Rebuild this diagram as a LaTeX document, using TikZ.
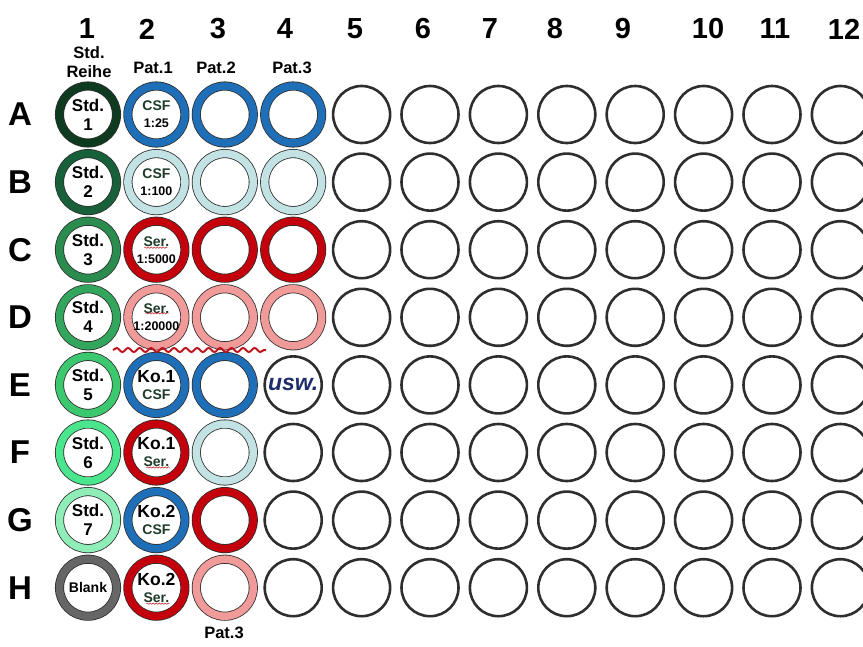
\documentclass[tikz,border=0pt]{standalone}
\usepackage{fontspec}
\setmainfont{Liberation Sans}
\usetikzlibrary{calc,decorations.pathmorphing}

\definecolor{edge}{HTML}{2E2E2E}
\definecolor{stdA}{HTML}{0E3B20}
\definecolor{stdB}{HTML}{17603A}
\definecolor{stdC}{HTML}{2A8C4E}
\definecolor{stdD}{HTML}{33A65D}
\definecolor{stdE}{HTML}{3CC86F}
\definecolor{stdF}{HTML}{4BE58D}
\definecolor{stdG}{HTML}{8FEDB7}
\definecolor{blank}{HTML}{666666}
\definecolor{csf}{HTML}{1E6FB8}
\definecolor{csflight}{HTML}{C2E2E3}
\definecolor{ser}{HTML}{C3000B}
\definecolor{serlight}{HTML}{F19A9A}
\definecolor{labgreen}{HTML}{1E3B2A}
\definecolor{uswblue}{HTML}{1F2D6B}
\definecolor{wavered}{HTML}{C0141C}

\tikzset{
  well/.style={circle, draw=edge, line width=2.6, minimum size=57, inner sep=0pt},
  ring/.style={circle, draw=edge, line width=0.8, double=#1, double distance=7.5,
    minimum size=57, inner sep=0pt, fill=white, align=center,
    font=\bfseries\fontsize{17}{19}\selectfont},
  dil/.style={font=\bfseries\fontsize{12.5}{17}\selectfont},
  colnum/.style={font=\bfseries\fontsize{29}{29}\selectfont},
  rowlet/.style={font=\bfseries\fontsize{33}{33}\selectfont},
  grouplab/.style={font=\bfseries\fontsize{16.5}{19}\selectfont, align=center},
  squig/.style={draw=wavered, line width=0.5, decorate,
    decoration={snake, amplitude=0.7, segment length=3}},
  wave/.style={draw=wavered, line width=2, decorate,
    decoration={snake, amplitude=2, segment length=11.5}}
}

\newcommand{\gl}[1]{{\fontsize{14}{15}\selectfont\color{labgreen}#1}}
\newcommand{\ko}[1]{{\fontsize{17.5}{18}\selectfont #1}}

\begin{document}
\begin{tikzpicture}[x=1pt,y=-1pt]
\useasboundingbox (0,0) rectangle (863,646);

% column numbers and row letters
\foreach \c/\xc in {1/87,2/147,3/218,4/285,5/355,6/423,7/490,8/555,9/623,10/708,11/775,12/844}
  \node[colnum] (n\c) at (\xc,29) {\c};
\foreach \r [count=\i] in {A,B,C,D,E,F,G,H}
  \node[rowlet] (l\r) at (20,{114.5+67.6*(\i-1)}) {\r};

% group labels
\node[grouplab] (std) at (89,62) {Std.\\Reihe};
\node[grouplab] (pat1) at (153,68) {Pat.1};
\node[grouplab] (pat2) at (216,68) {Pat.2};
\node[grouplab] (pat3) at (292,68) {Pat.3};
\node[grouplab] (pat3b) at (224,633) {Pat.3};

% empty wells
\foreach \c in {5,...,12}
  \foreach \r [count=\i] in {A,B,C,D,E,F,G,H}
    \node[well] (\r\c) at ({88+68.4*(\c-1)},{114.5+67.6*(\i-1)}) {};
\foreach \r/\i in {F/6,G/7,H/8}
  \node[well] (\r4) at (293.2,{114.5+67.6*(\i-1)}) {};
\node[well, font=\bfseries\itshape\fontsize{23}{23}\selectfont, text=uswblue]
  (E4) at (293.2,384.9) {usw.};

% standard row
\foreach \r/\i/\fc in {A/1/stdA,B/2/stdB,C/3/stdC,D/4/stdD,E/5/stdE,F/6/stdF,G/7/stdG}
  \node[ring=\fc] (\r1) at (88,{114.5+67.6*(\i-1)}) {Std.\\\i};
\node[ring=blank, font=\bfseries\fontsize{14}{15}\selectfont] (H1) at (88,587.7) {Blank};

% patient samples
\foreach \r/\i/\fc/\txt in {A/1/csf/{\gl{CSF}\\1:25}, B/2/csflight/{\gl{CSF}\\1:100},
    C/3/ser/{\gl{Ser.}\\1:5000}, D/4/serlight/{\gl{Ser.}\\1:20000},
    E/5/csf/{\ko{Ko.1}\\\gl{CSF}}, F/6/ser/{\ko{Ko.1}\\\gl{Ser.}},
    G/7/csf/{\ko{Ko.2}\\\gl{CSF}}, H/8/ser/{\ko{Ko.2}\\\gl{Ser.}}}
  \node[ring=\fc, dil] (\r2) at (156.4,{114.5+67.6*(\i-1)}) {\txt};
\foreach \r/\i/\fc in {A/1/csf,B/2/csflight,C/3/ser,D/4/serlight,
    E/5/csf,F/6/csflight,G/7/ser,H/8/serlight}
  \node[ring=\fc] (\r3) at (224.8,{114.5+67.6*(\i-1)}) {};
\foreach \r/\i/\fc in {A/1/csf,B/2/csflight,C/3/ser,D/4/serlight}
  \node[ring=\fc] (\r4) at (293.2,{114.5+67.6*(\i-1)}) {};

% spell-check marks under Ser.
\draw[squig] ($(C2)+(-12,-2)$) -- ($(C2)+(11,-2)$);
\draw[squig] ($(D2)+(-11,-4)$) -- ($(D2)+(12,-4)$);
\draw[squig] ($(F2)+(-10,15)$) -- ($(F2)+(13,15)$);
\draw[squig] ($(H2)+(-10,16)$) -- ($(H2)+(13,16)$);

% separator between D and E
\coordinate (wl) at (113,350);
\coordinate (wr) at (266,350);
\draw[wave] (wl) -- (wr);
\end{tikzpicture}
\end{document}
